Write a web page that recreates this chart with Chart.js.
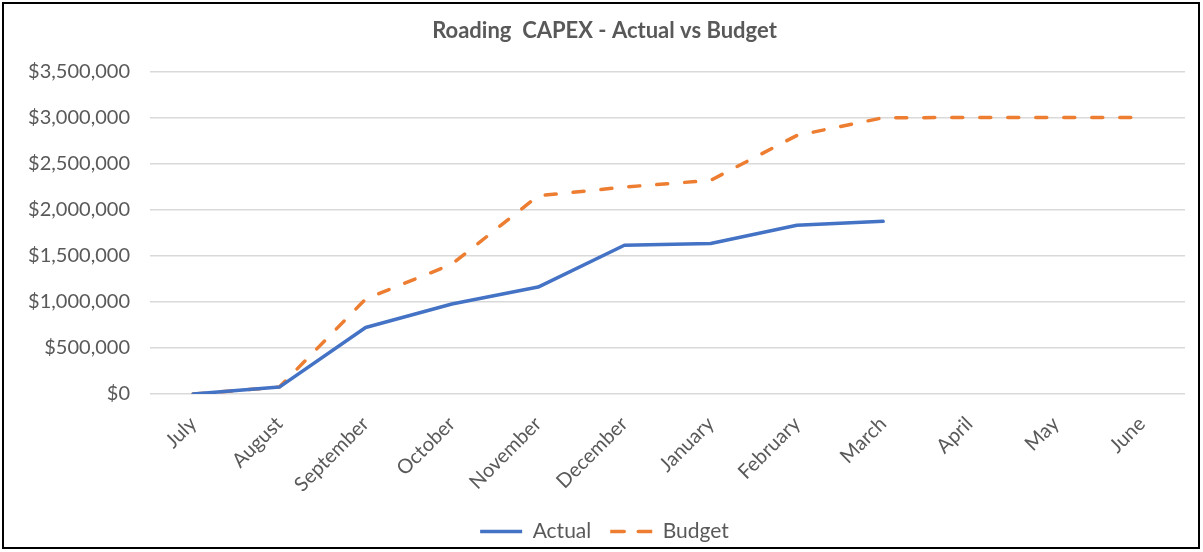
<!DOCTYPE html>
<html>
<head>
<meta charset="utf-8">
<script src="https://cdn.jsdelivr.net/npm/chart.js@4"></script>
<style>
  html, body { margin: 0; padding: 0; background: #fff; }
  #wrap { position: relative; width: 1203px; height: 552px; }
  #frame { position: absolute; left: 2px; top: 2px; width: 1198px; height: 547px; box-sizing: border-box; border: 2px solid #000; pointer-events: none; }
</style>
</head>
<body>
<div id="wrap">
  <canvas id="capexChart" width="1203" height="552"></canvas>
  <div id="frame"></div>
</div>
<script>
// data
const months = ["July", "August", "September", "October", "November", "December",
                "January", "February", "March", "April", "May", "June"];
const actual = [0, 75000, 722000, 976000, 1160000, 1614000, 1632000, 1830000, 1873000, null, null, null];
const budget = [0, 75000, 1030000, 1408000, 2150000, 2245000, 2318000, 2805000, 2997000, 3000000, 3000000, 3000000];
const yTicks = [0, 500000, 1000000, 1500000, 2000000, 2500000, 3000000, 3500000];

const TEXT_GRAY = "#595959";
const GRID_GRAY = "#d9d9d9";
const BLUE = "#4472c4";
const ORANGE = "#ed7d31";
const FONT = "Lato, 'Liberation Sans', sans-serif";

window.onload = () => {
    let ctx = document.getElementById('capexChart').getContext('2d');
    new Chart(ctx, {
        type: 'line',
        data: {
            labels: months,
            datasets: [
                { label: "Actual", data: actual, borderColor: BLUE, backgroundColor: BLUE,
                  borderWidth: 3.5, pointRadius: 0, fill: false, tension: 0, spanGaps: false,
                  borderCapStyle: 'round', borderJoinStyle: 'round' },
                { label: "Budget", data: budget, borderColor: ORANGE, backgroundColor: ORANGE,
                  borderWidth: 3.5, pointRadius: 0, fill: false, tension: 0,
                  borderDash: [11, 17], borderCapStyle: 'round', borderJoinStyle: 'round' }
            ]
        },
        options: {
            responsive: false,
            animation: false,
            // left padding keeps title/legend centred like the original
            layout: { padding: { left: 24, right: 18, top: 0, bottom: 0 } },
            plugins: {
                tooltip: { enabled: false },
                title: {
                    display: true,
                    text: "Roading  CAPEX - Actual vs Budget",
                    color: TEXT_GRAY,
                    font: { family: FONT, size: 22, weight: 'bold' },
                    padding: { top: 18, bottom: 27 }
                },
                legend: {
                    position: 'bottom',
                    labels: {
                        color: TEXT_GRAY,
                        font: { family: FONT, size: 21 },
                        boxWidth: 42,
                        boxHeight: 0,
                        padding: 19,
                        generateLabels: (chart) => chart.data.datasets.map((ds, i) => ({
                            text: ds.label,
                            datasetIndex: i,
                            fillStyle: 'rgba(0,0,0,0)',
                            strokeStyle: ds.borderColor,
                            lineWidth: 3.5,
                            lineCap: 'round',
                            // dash 28/gap 14 with offset 14 -> "dash gap dash" over 42px
                            lineDash: ds.borderDash ? [28, 14] : [],
                            lineDashOffset: ds.borderDash ? 14 : 0,
                            fontColor: TEXT_GRAY,
                            hidden: false
                        }))
                    }
                }
            },
            scales: {
                x: {
                    offset: true,
                    grid: { display: false },
                    border: { display: false },
                    ticks: {
                        color: TEXT_GRAY,
                        font: { family: FONT, size: 20 },
                        minRotation: 45,
                        maxRotation: 45,
                        autoSkip: false,
                        padding: 10
                    },
                    afterFit: (scale) => { scale.height = 108; }
                },
                y: {
                    min: 0,
                    max: 3500000,
                    grid: { color: GRID_GRAY, lineWidth: 1.5, drawTicks: false },
                    border: { display: false },
                    afterBuildTicks: (scale) => { scale.ticks = yTicks.map(v => ({ value: v })); },
                    ticks: {
                        color: TEXT_GRAY,
                        font: { family: FONT, size: 20 },
                        padding: 20,
                        callback: (v) => "$" + Number(v).toLocaleString("en-US")
                    },
                    afterFit: (scale) => { scale.width = 126; }
                }
            }
        }
    });
};
</script>
</body>
</html>
